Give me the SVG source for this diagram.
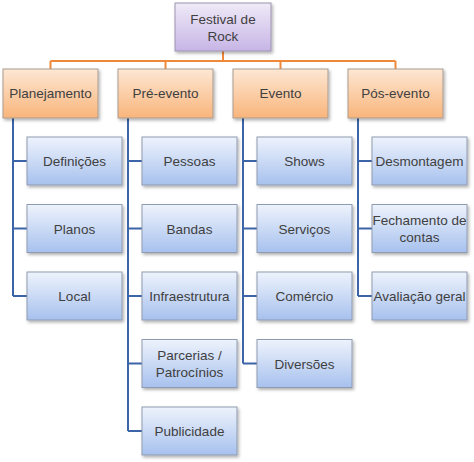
<svg xmlns="http://www.w3.org/2000/svg" width="474" height="462" viewBox="0 0 474 462">
<defs>
<linearGradient id="gP" x1="0" y1="0" x2="0" y2="1"><stop offset="0" stop-color="#efeaf7"/><stop offset="1" stop-color="#c7b5e6"/></linearGradient>
<linearGradient id="gO" x1="0" y1="0" x2="0" y2="1"><stop offset="0" stop-color="#fde7d4"/><stop offset="1" stop-color="#f9b57b"/></linearGradient>
<linearGradient id="gB" x1="0" y1="0" x2="0" y2="1"><stop offset="0" stop-color="#eef3fc"/><stop offset="1" stop-color="#a7c1ee"/></linearGradient>
<filter id="sh" x="-10%" y="-10%" width="130%" height="140%"><feDropShadow dx="1.5" dy="2" stdDeviation="1.5" flood-color="#000" flood-opacity="0.3"/></filter>
</defs>
<style>
text{font-family:"Liberation Sans",Arial,sans-serif;font-size:13.5px;fill:#404040;text-anchor:middle}
.r{fill:url(#gP);stroke:#9d93b0;stroke-width:1;filter:url(#sh)}
.o{fill:url(#gO);stroke:#a99b8f;stroke-width:1;filter:url(#sh)}
.b{fill:url(#gB);stroke:#8f9bb0;stroke-width:1;filter:url(#sh)}
.co{fill:none;stroke:#f0883a;stroke-width:2}
.cb{fill:none;stroke:#3c64a8;stroke-width:2}
</style>
<rect width="474" height="462" fill="#fff"/>
<g id="connectors">
<path class="co" d="M223,51V61M50.5,61H395.5M50.5,61V69M165.5,61V69M280.5,61V69M395.5,61V69"/>
<path class="cb" d="M13,118V296M13,161H27M13,228.5H27M13,296H27"/>
<path class="cb" d="M128,118V431M128,161H142M128,228.5H142M128,296H142M128,363.5H142M128,431H142"/>
<path class="cb" d="M243,118V363.5M243,161H257M243,228.5H257M243,296H257M243,363.5H257"/>
<path class="cb" d="M358,118V296M358,161H372M358,228.5H372M358,296H372"/>
</g>
<g id="root"><rect class="r" x="175" y="3" width="96" height="48"/><text x="223" y="24">Festival de</text><text x="223" y="41">Rock</text></g>
<g id="planejamento"><rect class="o" x="3" y="69" width="95" height="49"/><text x="50.5" y="98">Planejamento</text></g>
<g id="pre-evento"><rect class="o" x="118" y="69" width="95" height="49"/><text x="165.5" y="98">Pré-evento</text></g>
<g id="evento"><rect class="o" x="233" y="69" width="95" height="49"/><text x="280.5" y="98">Evento</text></g>
<g id="pos-evento"><rect class="o" x="348" y="69" width="95" height="49"/><text x="395.5" y="98">Pós-evento</text></g>
<g id="definicoes"><rect class="b" x="27" y="137" width="95" height="48"/><text x="74.5" y="166">Definições</text></g>
<g id="planos"><rect class="b" x="27" y="204.5" width="95" height="48"/><text x="74.5" y="233.5">Planos</text></g>
<g id="local"><rect class="b" x="27" y="272" width="95" height="48"/><text x="74.5" y="301">Local</text></g>
<g id="pessoas"><rect class="b" x="142" y="137" width="95" height="48"/><text x="189.5" y="166">Pessoas</text></g>
<g id="bandas"><rect class="b" x="142" y="204.5" width="95" height="48"/><text x="189.5" y="233.5">Bandas</text></g>
<g id="infraestrutura"><rect class="b" x="142" y="272" width="95" height="48"/><text x="189.5" y="301">Infraestrutura</text></g>
<g id="parcerias"><rect class="b" x="142" y="339.5" width="95" height="48"/><text x="189.5" y="360">Parcerias /</text><text x="189.5" y="377">Patrocínios</text></g>
<g id="publicidade"><rect class="b" x="142" y="407" width="95" height="48"/><text x="189.5" y="436">Publicidade</text></g>
<g id="shows"><rect class="b" x="257" y="137" width="95" height="48"/><text x="304.5" y="166">Shows</text></g>
<g id="servicos"><rect class="b" x="257" y="204.5" width="95" height="48"/><text x="304.5" y="233.5">Serviços</text></g>
<g id="comercio"><rect class="b" x="257" y="272" width="95" height="48"/><text x="304.5" y="301">Comércio</text></g>
<g id="diversoes"><rect class="b" x="257" y="339.5" width="95" height="48"/><text x="304.5" y="368.5">Diversões</text></g>
<g id="desmontagem"><rect class="b" x="372" y="137" width="95" height="48"/><text x="419.5" y="166">Desmontagem</text></g>
<g id="fechamento"><rect class="b" x="372" y="204.5" width="95" height="48"/><text x="419.5" y="225">Fechamento de</text><text x="419.5" y="242">contas</text></g>
<g id="avaliacao"><rect class="b" x="372" y="272" width="95" height="48"/><text x="419.5" y="301">Avaliação geral</text></g>
</svg>
